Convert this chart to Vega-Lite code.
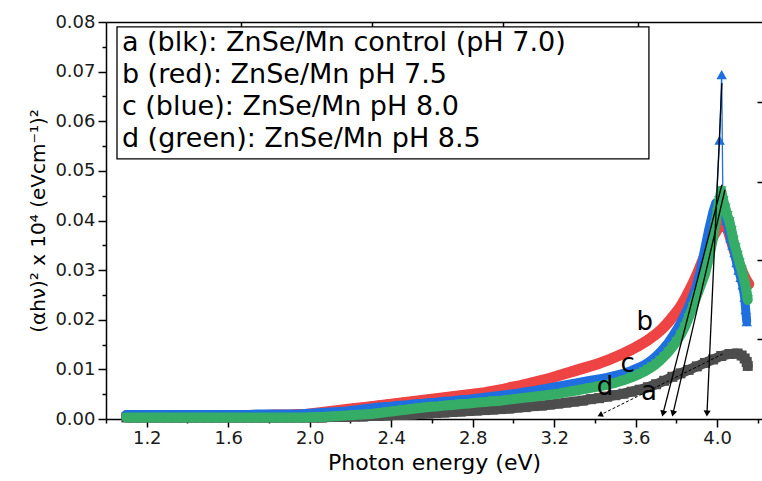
{
 "$schema": "https://vega.github.io/schema/vega-lite/v6.json",
 "width": 656, "height": 397,
 "autosize": "none",
 "padding": {"left": 106, "top": 22, "right": 0, "bottom": 62},
 "background": "white",
 "config": {
  "view": {"stroke": null},
  "axis": {"grid": false, "labelFont": "DejaVu Sans", "titleFont": "DejaVu Sans", "domainColor": "black", "tickColor": "black", "labelColor": "#1a1a1a", "titleColor": "black", "titleFontWeight": "normal", "domainWidth": 1.5, "tickWidth": 1.5},
  "line": {"strokeCap": "round", "strokeJoin": "round"}
 },
 "datasets": {
  "pts": [
   {"s":"a","E":1.10,"v":0.0003},{"s":"a","E":1.14,"v":0.0003},{"s":"a","E":1.18,"v":0.0003},{"s":"a","E":1.22,"v":0.0003},{"s":"a","E":1.26,"v":0.0003},{"s":"a","E":1.30,"v":0.0003},{"s":"a","E":1.34,"v":0.0003},{"s":"a","E":1.38,"v":0.0003},{"s":"a","E":1.42,"v":0.0003},{"s":"a","E":1.46,"v":0.0003},{"s":"a","E":1.50,"v":0.0003},{"s":"a","E":1.54,"v":0.0003},{"s":"a","E":1.58,"v":0.0003},{"s":"a","E":1.62,"v":0.0003},{"s":"a","E":1.66,"v":0.0003},{"s":"a","E":1.70,"v":0.0003},{"s":"a","E":1.74,"v":0.0003},{"s":"a","E":1.78,"v":0.0003},{"s":"a","E":1.82,"v":0.0003},{"s":"a","E":1.86,"v":0.0003},{"s":"a","E":1.90,"v":0.0003},{"s":"a","E":1.94,"v":0.0003},{"s":"a","E":1.98,"v":0.0003},{"s":"a","E":2.02,"v":0.0003},{"s":"a","E":2.06,"v":0.0003},{"s":"a","E":2.10,"v":0.0004},{"s":"a","E":2.14,"v":0.0004},{"s":"a","E":2.18,"v":0.0004},{"s":"a","E":2.22,"v":0.0005},{"s":"a","E":2.26,"v":0.0005},{"s":"a","E":2.30,"v":0.0006},{"s":"a","E":2.34,"v":0.0006},{"s":"a","E":2.38,"v":0.0007},{"s":"a","E":2.42,"v":0.0008},{"s":"a","E":2.46,"v":0.0008},{"s":"a","E":2.50,"v":0.0009},{"s":"a","E":2.54,"v":0.0010},{"s":"a","E":2.58,"v":0.0011},{"s":"a","E":2.62,"v":0.0012},{"s":"a","E":2.66,"v":0.0013},{"s":"a","E":2.70,"v":0.0014},{"s":"a","E":2.74,"v":0.0015},{"s":"a","E":2.78,"v":0.0016},{"s":"a","E":2.82,"v":0.0017},{"s":"a","E":2.86,"v":0.0018},{"s":"a","E":2.90,"v":0.0019},{"s":"a","E":2.94,"v":0.0020},{"s":"a","E":2.98,"v":0.0021},{"s":"a","E":3.02,"v":0.0023},{"s":"a","E":3.06,"v":0.0024},{"s":"a","E":3.10,"v":0.0026},{"s":"a","E":3.14,"v":0.0027},{"s":"a","E":3.18,"v":0.0029},{"s":"a","E":3.22,"v":0.0031},{"s":"a","E":3.26,"v":0.0033},{"s":"a","E":3.30,"v":0.0035},{"s":"a","E":3.34,"v":0.0037},{"s":"a","E":3.38,"v":0.0040},{"s":"a","E":3.42,"v":0.0042},{"s":"a","E":3.46,"v":0.0045},{"s":"a","E":3.50,"v":0.0048},{"s":"a","E":3.54,"v":0.0051},{"s":"a","E":3.58,"v":0.0055},{"s":"a","E":3.62,"v":0.0059},{"s":"a","E":3.66,"v":0.0064},{"s":"a","E":3.70,"v":0.0070},{"s":"a","E":3.74,"v":0.0077},{"s":"a","E":3.78,"v":0.0085},{"s":"a","E":3.82,"v":0.0092},{"s":"a","E":3.86,"v":0.0099},{"s":"a","E":3.90,"v":0.0106},{"s":"a","E":3.94,"v":0.0113},{"s":"a","E":3.98,"v":0.0120},{"s":"a","E":4.02,"v":0.0127},{"s":"a","E":4.06,"v":0.0131},{"s":"a","E":4.10,"v":0.0132},{"s":"a","E":4.12,"v":0.0128},{"s":"a","E":4.135,"v":0.0122},{"s":"a","E":4.145,"v":0.0115},{"s":"a","E":4.15,"v":0.0107},

   {"s":"b","E":1.10,"v":0.0007},{"s":"b","E":1.14,"v":0.0007},{"s":"b","E":1.18,"v":0.0007},{"s":"b","E":1.22,"v":0.0007},{"s":"b","E":1.26,"v":0.0007},{"s":"b","E":1.30,"v":0.0007},{"s":"b","E":1.34,"v":0.0007},{"s":"b","E":1.38,"v":0.0007},{"s":"b","E":1.42,"v":0.0007},{"s":"b","E":1.46,"v":0.0007},{"s":"b","E":1.50,"v":0.0007},{"s":"b","E":1.54,"v":0.0007},{"s":"b","E":1.58,"v":0.0007},{"s":"b","E":1.62,"v":0.0007},{"s":"b","E":1.66,"v":0.0007},{"s":"b","E":1.70,"v":0.0007},{"s":"b","E":1.74,"v":0.0007},{"s":"b","E":1.78,"v":0.0007},{"s":"b","E":1.82,"v":0.0008},{"s":"b","E":1.86,"v":0.0008},{"s":"b","E":1.90,"v":0.0008},{"s":"b","E":1.94,"v":0.0009},{"s":"b","E":1.98,"v":0.0009},{"s":"b","E":2.02,"v":0.0011},{"s":"b","E":2.06,"v":0.0013},{"s":"b","E":2.10,"v":0.0015},{"s":"b","E":2.14,"v":0.0017},{"s":"b","E":2.18,"v":0.0019},{"s":"b","E":2.22,"v":0.0021},{"s":"b","E":2.26,"v":0.0023},{"s":"b","E":2.30,"v":0.0025},{"s":"b","E":2.34,"v":0.0027},{"s":"b","E":2.38,"v":0.0029},{"s":"b","E":2.42,"v":0.0031},{"s":"b","E":2.46,"v":0.0033},{"s":"b","E":2.50,"v":0.0035},{"s":"b","E":2.54,"v":0.0037},{"s":"b","E":2.58,"v":0.0039},{"s":"b","E":2.62,"v":0.0041},{"s":"b","E":2.66,"v":0.0043},{"s":"b","E":2.70,"v":0.0045},{"s":"b","E":2.74,"v":0.0047},{"s":"b","E":2.78,"v":0.0049},{"s":"b","E":2.82,"v":0.0051},{"s":"b","E":2.86,"v":0.0053},{"s":"b","E":2.90,"v":0.0056},{"s":"b","E":2.94,"v":0.0059},{"s":"b","E":2.98,"v":0.0063},{"s":"b","E":3.02,"v":0.0066},{"s":"b","E":3.06,"v":0.0070},{"s":"b","E":3.10,"v":0.0074},{"s":"b","E":3.14,"v":0.0078},{"s":"b","E":3.18,"v":0.0082},{"s":"b","E":3.22,"v":0.0087},{"s":"b","E":3.26,"v":0.0092},{"s":"b","E":3.30,"v":0.0097},{"s":"b","E":3.34,"v":0.0102},{"s":"b","E":3.38,"v":0.0107},{"s":"b","E":3.42,"v":0.0112},{"s":"b","E":3.46,"v":0.0118},{"s":"b","E":3.50,"v":0.0125},{"s":"b","E":3.54,"v":0.0132},{"s":"b","E":3.58,"v":0.0140},{"s":"b","E":3.62,"v":0.0149},{"s":"b","E":3.64,"v":0.0154},{"s":"b","E":3.66,"v":0.0159},{"s":"b","E":3.68,"v":0.0165},{"s":"b","E":3.70,"v":0.0171},{"s":"b","E":3.72,"v":0.0178},{"s":"b","E":3.74,"v":0.0186},{"s":"b","E":3.76,"v":0.0195},{"s":"b","E":3.78,"v":0.0205},{"s":"b","E":3.80,"v":0.0215},{"s":"b","E":3.82,"v":0.0226},{"s":"b","E":3.84,"v":0.0240},{"s":"b","E":3.86,"v":0.0256},{"s":"b","E":3.88,"v":0.0272},{"s":"b","E":3.90,"v":0.0290},{"s":"b","E":3.92,"v":0.0310},{"s":"b","E":3.94,"v":0.0330},{"s":"b","E":3.96,"v":0.0350},{"s":"b","E":3.98,"v":0.0368},{"s":"b","E":4.00,"v":0.0382},{"s":"b","E":4.02,"v":0.0395},{"s":"b","E":4.035,"v":0.0400},{"s":"b","E":4.05,"v":0.0385},{"s":"b","E":4.065,"v":0.0365},{"s":"b","E":4.08,"v":0.0345},{"s":"b","E":4.095,"v":0.0325},{"s":"b","E":4.11,"v":0.0310},{"s":"b","E":4.125,"v":0.0295},{"s":"b","E":4.14,"v":0.0282},{"s":"b","E":4.155,"v":0.0272},

   {"s":"c","E":1.10,"v":0.0008},{"s":"c","E":1.14,"v":0.0008},{"s":"c","E":1.18,"v":0.0008},{"s":"c","E":1.22,"v":0.0008},{"s":"c","E":1.26,"v":0.0008},{"s":"c","E":1.30,"v":0.0008},{"s":"c","E":1.34,"v":0.0008},{"s":"c","E":1.38,"v":0.0008},{"s":"c","E":1.42,"v":0.0008},{"s":"c","E":1.46,"v":0.0008},{"s":"c","E":1.50,"v":0.0008},{"s":"c","E":1.54,"v":0.0008},{"s":"c","E":1.58,"v":0.0008},{"s":"c","E":1.62,"v":0.0008},{"s":"c","E":1.66,"v":0.0008},{"s":"c","E":1.70,"v":0.0008},{"s":"c","E":1.74,"v":0.0009},{"s":"c","E":1.78,"v":0.0009},{"s":"c","E":1.82,"v":0.0009},{"s":"c","E":1.86,"v":0.0009},{"s":"c","E":1.90,"v":0.0009},{"s":"c","E":1.94,"v":0.0009},{"s":"c","E":1.98,"v":0.0010},{"s":"c","E":2.02,"v":0.0011},{"s":"c","E":2.06,"v":0.0012},{"s":"c","E":2.10,"v":0.0013},{"s":"c","E":2.14,"v":0.0014},{"s":"c","E":2.18,"v":0.0015},{"s":"c","E":2.22,"v":0.0017},{"s":"c","E":2.26,"v":0.0019},{"s":"c","E":2.30,"v":0.0021},{"s":"c","E":2.34,"v":0.0023},{"s":"c","E":2.38,"v":0.0024},{"s":"c","E":2.42,"v":0.0026},{"s":"c","E":2.46,"v":0.0027},{"s":"c","E":2.50,"v":0.0029},{"s":"c","E":2.54,"v":0.0030},{"s":"c","E":2.58,"v":0.0032},{"s":"c","E":2.62,"v":0.0033},{"s":"c","E":2.66,"v":0.0035},{"s":"c","E":2.70,"v":0.0036},{"s":"c","E":2.74,"v":0.0038},{"s":"c","E":2.78,"v":0.0039},{"s":"c","E":2.82,"v":0.0041},{"s":"c","E":2.86,"v":0.0043},{"s":"c","E":2.90,"v":0.0045},{"s":"c","E":2.94,"v":0.0047},{"s":"c","E":2.98,"v":0.0049},{"s":"c","E":3.02,"v":0.0051},{"s":"c","E":3.06,"v":0.0054},{"s":"c","E":3.10,"v":0.0056},{"s":"c","E":3.14,"v":0.0059},{"s":"c","E":3.18,"v":0.0062},{"s":"c","E":3.22,"v":0.0065},{"s":"c","E":3.26,"v":0.0068},{"s":"c","E":3.30,"v":0.0071},{"s":"c","E":3.34,"v":0.0074},{"s":"c","E":3.38,"v":0.0077},{"s":"c","E":3.42,"v":0.0080},{"s":"c","E":3.46,"v":0.0083},{"s":"c","E":3.50,"v":0.0087},{"s":"c","E":3.54,"v":0.0091},{"s":"c","E":3.58,"v":0.0097},{"s":"c","E":3.62,"v":0.0104},{"s":"c","E":3.64,"v":0.0108},{"s":"c","E":3.66,"v":0.0113},{"s":"c","E":3.68,"v":0.0119},{"s":"c","E":3.70,"v":0.0126},{"s":"c","E":3.72,"v":0.0134},{"s":"c","E":3.74,"v":0.0143},{"s":"c","E":3.76,"v":0.0153},{"s":"c","E":3.78,"v":0.0165},{"s":"c","E":3.80,"v":0.0178},{"s":"c","E":3.82,"v":0.0192},{"s":"c","E":3.84,"v":0.0208},{"s":"c","E":3.86,"v":0.0224},{"s":"c","E":3.88,"v":0.0245},{"s":"c","E":3.90,"v":0.0268},{"s":"c","E":3.92,"v":0.0300},{"s":"c","E":3.94,"v":0.0340},{"s":"c","E":3.96,"v":0.0380},{"s":"c","E":3.98,"v":0.0415},{"s":"c","E":3.995,"v":0.0435},{"s":"c","E":4.012,"v":0.0562},{"s":"c","E":4.022,"v":0.0694},{"s":"c","E":4.028,"v":0.0445},{"s":"c","E":4.035,"v":0.0420},{"s":"c","E":4.045,"v":0.0400},{"s":"c","E":4.055,"v":0.0385},{"s":"c","E":4.065,"v":0.0365},{"s":"c","E":4.075,"v":0.0350},{"s":"c","E":4.085,"v":0.0335},{"s":"c","E":4.095,"v":0.0315},{"s":"c","E":4.105,"v":0.0300},{"s":"c","E":4.115,"v":0.0285},{"s":"c","E":4.125,"v":0.0270},{"s":"c","E":4.135,"v":0.0245},{"s":"c","E":4.14,"v":0.0220},{"s":"c","E":4.145,"v":0.0196},

   {"s":"d","E":1.10,"v":0.0003},{"s":"d","E":1.14,"v":0.0003},{"s":"d","E":1.18,"v":0.0003},{"s":"d","E":1.22,"v":0.0003},{"s":"d","E":1.26,"v":0.0003},{"s":"d","E":1.30,"v":0.0003},{"s":"d","E":1.34,"v":0.0003},{"s":"d","E":1.38,"v":0.0003},{"s":"d","E":1.42,"v":0.0003},{"s":"d","E":1.46,"v":0.0003},{"s":"d","E":1.50,"v":0.0003},{"s":"d","E":1.54,"v":0.0003},{"s":"d","E":1.58,"v":0.0003},{"s":"d","E":1.62,"v":0.0003},{"s":"d","E":1.66,"v":0.0003},{"s":"d","E":1.70,"v":0.0003},{"s":"d","E":1.74,"v":0.0003},{"s":"d","E":1.78,"v":0.0003},{"s":"d","E":1.82,"v":0.0003},{"s":"d","E":1.86,"v":0.0003},{"s":"d","E":1.90,"v":0.0003},{"s":"d","E":1.94,"v":0.0003},{"s":"d","E":1.98,"v":0.0003},{"s":"d","E":2.02,"v":0.0004},{"s":"d","E":2.06,"v":0.0004},{"s":"d","E":2.10,"v":0.0005},{"s":"d","E":2.14,"v":0.0006},{"s":"d","E":2.18,"v":0.0007},{"s":"d","E":2.22,"v":0.0008},{"s":"d","E":2.26,"v":0.0009},{"s":"d","E":2.30,"v":0.0010},{"s":"d","E":2.34,"v":0.0012},{"s":"d","E":2.38,"v":0.0014},{"s":"d","E":2.42,"v":0.0016},{"s":"d","E":2.46,"v":0.0018},{"s":"d","E":2.50,"v":0.0020},{"s":"d","E":2.54,"v":0.0022},{"s":"d","E":2.58,"v":0.0024},{"s":"d","E":2.62,"v":0.0025},{"s":"d","E":2.66,"v":0.0027},{"s":"d","E":2.70,"v":0.0028},{"s":"d","E":2.74,"v":0.0030},{"s":"d","E":2.78,"v":0.0031},{"s":"d","E":2.82,"v":0.0033},{"s":"d","E":2.86,"v":0.0034},{"s":"d","E":2.90,"v":0.0036},{"s":"d","E":2.94,"v":0.0037},{"s":"d","E":2.98,"v":0.0039},{"s":"d","E":3.02,"v":0.0041},{"s":"d","E":3.06,"v":0.0043},{"s":"d","E":3.10,"v":0.0045},{"s":"d","E":3.14,"v":0.0047},{"s":"d","E":3.18,"v":0.0049},{"s":"d","E":3.22,"v":0.0051},{"s":"d","E":3.26,"v":0.0054},{"s":"d","E":3.30,"v":0.0057},{"s":"d","E":3.34,"v":0.0060},{"s":"d","E":3.38,"v":0.0063},{"s":"d","E":3.42,"v":0.0066},{"s":"d","E":3.46,"v":0.0069},{"s":"d","E":3.50,"v":0.0073},{"s":"d","E":3.54,"v":0.0078},{"s":"d","E":3.58,"v":0.0084},{"s":"d","E":3.62,"v":0.0091},{"s":"d","E":3.64,"v":0.0095},{"s":"d","E":3.66,"v":0.0100},{"s":"d","E":3.68,"v":0.0105},{"s":"d","E":3.70,"v":0.0111},{"s":"d","E":3.72,"v":0.0118},{"s":"d","E":3.74,"v":0.0126},{"s":"d","E":3.76,"v":0.0135},{"s":"d","E":3.78,"v":0.0145},{"s":"d","E":3.80,"v":0.0156},{"s":"d","E":3.82,"v":0.0169},{"s":"d","E":3.84,"v":0.0185},{"s":"d","E":3.86,"v":0.0204},{"s":"d","E":3.88,"v":0.0225},{"s":"d","E":3.90,"v":0.0248},{"s":"d","E":3.92,"v":0.0270},{"s":"d","E":3.94,"v":0.0292},{"s":"d","E":3.96,"v":0.0325},{"s":"d","E":3.98,"v":0.0365},{"s":"d","E":3.99,"v":0.0390},{"s":"d","E":4.00,"v":0.0415},{"s":"d","E":4.01,"v":0.0440},{"s":"d","E":4.02,"v":0.0460},{"s":"d","E":4.03,"v":0.0440},{"s":"d","E":4.04,"v":0.0425},{"s":"d","E":4.05,"v":0.0410},{"s":"d","E":4.06,"v":0.0398},{"s":"d","E":4.07,"v":0.0380},{"s":"d","E":4.08,"v":0.0360},{"s":"d","E":4.09,"v":0.0345},{"s":"d","E":4.10,"v":0.0330},{"s":"d","E":4.11,"v":0.0315},{"s":"d","E":4.12,"v":0.0300},{"s":"d","E":4.13,"v":0.0285},{"s":"d","E":4.14,"v":0.0268},{"s":"d","E":4.145,"v":0.0255},{"s":"d","E":4.15,"v":0.0240}
  ],
  "arrows": [
   {"k": 1, "E": 4.023, "v": 0.0677, "E2": 3.950, "v2": 0.0011},
   {"k": 2, "E": 4.023, "v": 0.0472, "E2": 3.734, "v2": 0.0011},
   {"k": 3, "E": 4.038, "v": 0.0462, "E2": 3.783, "v2": 0.0011},
   {"k": 4, "E": 4.027, "v": 0.0131, "E2": 3.425, "v2": 0.0008}
  ],
  "box": [{"E": 1.054, "E2": 3.665, "v": 0.0524, "v2": 0.0790}],
  "legend": [
   {"t": "a (blk): ZnSe/Mn control (pH 7.0)", "E": 1.078, "v": 0.0757},
   {"t": "b (red): ZnSe/Mn pH 7.5", "E": 1.078, "v": 0.0693},
   {"t": "c (blue): ZnSe/Mn pH 8.0", "E": 1.078, "v": 0.0628},
   {"t": "d (green): ZnSe/Mn pH 8.5", "E": 1.078, "v": 0.0564}
  ],
  "labels": [
   {"t": "a", "E": 3.665, "v": 0.0054},
   {"t": "b", "E": 3.645, "v": 0.0196},
   {"t": "c", "E": 3.56, "v": 0.0110},
   {"t": "d", "E": 3.449, "v": 0.0065}
  ]
 },
 "resolve": {"axis": {"x": "independent", "y": "independent"}},
 "layer": [
  {
   "data": {"name": "pts"},
   "transform": [{"filter": "datum.s == 'a'"}],
   "mark": {"type": "line", "color": "#4d4d4d", "strokeWidth": 10},
   "encoding": {
    "x": {"field": "E", "type": "quantitative", "scale": {"domain": [1, 4.22], "nice": false, "zero": false},
      "axis": {"orient": "bottom", "values": [1.2, 1.6, 2.0, 2.4, 2.8, 3.2, 3.6, 4.0], "format": ".1f", "tickSize": 8, "labelFontSize": 18, "labelPadding": 2, "title": "Photon energy (eV)", "titleFontSize": 22, "titlePadding": 5}},
    "y": {"field": "v", "type": "quantitative", "scale": {"domain": [0, 0.08], "nice": false, "zero": false},
      "axis": {"orient": "left", "values": [0, 0.01, 0.02, 0.03, 0.04, 0.05, 0.06, 0.07, 0.08], "format": ".2f", "tickSize": 8, "labelFontSize": 18, "labelPadding": 3, "title": "(αhν)² x 10⁴ (eVcm⁻¹)²", "titleFontSize": 20, "titlePadding": 6}}
   }
  },
  {
   "data": {"name": "pts"},
   "transform": [{"filter": "datum.s == 'a'"}],
   "mark": {"type": "point", "shape": "square", "filled": true, "opacity": 1, "size": 100, "strokeWidth": 0, "color": "#4d4d4d"},
   "encoding": {
    "x": {"field": "E", "type": "quantitative", "scale": {"domain": [1, 4.22], "nice": false, "zero": false}, "axis": null},
    "y": {"field": "v", "type": "quantitative", "scale": {"domain": [0, 0.08], "nice": false, "zero": false}, "axis": null}
   }
  },
  {
   "data": {"name": "pts"},
   "transform": [{"filter": "datum.s == 'b'"}],
   "mark": {"type": "line", "color": "#ef4444", "strokeWidth": 11},
   "encoding": {
    "x": {"field": "E", "type": "quantitative", "scale": {"domain": [1, 4.22], "nice": false, "zero": false}, "axis": null},
    "y": {"field": "v", "type": "quantitative", "scale": {"domain": [0, 0.08], "nice": false, "zero": false}, "axis": null}
   }
  },
  {
   "data": {"name": "pts"},
   "transform": [{"filter": "datum.s == 'b'"}],
   "mark": {"type": "point", "shape": "circle", "filled": true, "opacity": 1, "size": 100, "strokeWidth": 0, "color": "#ef4444"},
   "encoding": {
    "x": {"field": "E", "type": "quantitative", "scale": {"domain": [1, 4.22], "nice": false, "zero": false}, "axis": null},
    "y": {"field": "v", "type": "quantitative", "scale": {"domain": [0, 0.08], "nice": false, "zero": false}, "axis": null}
   }
  },
  {
   "data": {"name": "pts"},
   "transform": [{"filter": "datum.s == 'c' && datum.E <= 3.996"}],
   "mark": {"type": "line", "color": "#1f6fe0", "strokeWidth": 10},
   "encoding": {
    "x": {"field": "E", "type": "quantitative", "scale": {"domain": [1, 4.22], "nice": false, "zero": false}, "axis": null},
    "y": {"field": "v", "type": "quantitative", "scale": {"domain": [0, 0.08], "nice": false, "zero": false}, "axis": null}
   }
  },
  {
   "data": {"name": "pts"},
   "transform": [{"filter": "datum.s == 'c' && datum.E >= 4.027"}],
   "mark": {"type": "line", "color": "#1f6fe0", "strokeWidth": 9},
   "encoding": {
    "x": {"field": "E", "type": "quantitative", "scale": {"domain": [1, 4.22], "nice": false, "zero": false}, "axis": null},
    "y": {"field": "v", "type": "quantitative", "scale": {"domain": [0, 0.08], "nice": false, "zero": false}, "axis": null}
   }
  },
  {
   "data": {"name": "pts"},
   "transform": [{"filter": "datum.s == 'c' && datum.E >= 3.99 && datum.E <= 4.03"}],
   "mark": {"type": "line", "color": "#1f6fe0", "strokeWidth": 1.3},
   "encoding": {
    "x": {"field": "E", "type": "quantitative", "scale": {"domain": [1, 4.22], "nice": false, "zero": false}, "axis": null},
    "y": {"field": "v", "type": "quantitative", "scale": {"domain": [0, 0.08], "nice": false, "zero": false}, "axis": null}
   }
  },
  {
   "data": {"name": "pts"},
   "transform": [{"filter": "datum.s == 'c'"}],
   "mark": {"type": "point", "shape": "triangle-up", "filled": true, "opacity": 1, "size": 110, "strokeWidth": 0, "color": "#1f6fe0"},
   "encoding": {
    "x": {"field": "E", "type": "quantitative", "scale": {"domain": [1, 4.22], "nice": false, "zero": false}, "axis": null},
    "y": {"field": "v", "type": "quantitative", "scale": {"domain": [0, 0.08], "nice": false, "zero": false}, "axis": null}
   }
  },
  {
   "data": {"name": "pts"},
   "transform": [{"filter": "datum.s == 'd'"}],
   "mark": {"type": "line", "color": "#36ad66", "strokeWidth": 10},
   "encoding": {
    "x": {"field": "E", "type": "quantitative", "scale": {"domain": [1, 4.22], "nice": false, "zero": false}, "axis": null},
    "y": {"field": "v", "type": "quantitative", "scale": {"domain": [0, 0.08], "nice": false, "zero": false}, "axis": null}
   }
  },
  {
   "data": {"name": "pts"},
   "transform": [{"filter": "datum.s == 'd'"}],
   "mark": {"type": "point", "shape": "triangle-down", "filled": true, "opacity": 1, "size": 110, "strokeWidth": 0, "color": "#36ad66"},
   "encoding": {
    "x": {"field": "E", "type": "quantitative", "scale": {"domain": [1, 4.22], "nice": false, "zero": false}, "axis": null},
    "y": {"field": "v", "type": "quantitative", "scale": {"domain": [0, 0.08], "nice": false, "zero": false}, "axis": null}
   }
  },
  {
   "data": {"name": "arrows"},
   "transform": [{"filter": "datum.k < 4"}],
   "mark": {"type": "rule", "color": "black", "strokeWidth": 1.3},
   "encoding": {
    "x": {"field": "E", "type": "quantitative", "scale": {"domain": [1, 4.22], "nice": false, "zero": false},
      "axis": {"orient": "bottom", "values": [1.0, 1.4, 1.8, 2.2, 2.6, 3.0, 3.4, 3.8, 4.2], "labels": false, "domain": false, "tickSize": 4, "title": null}},
    "x2": {"field": "E2"},
    "y": {"field": "v", "type": "quantitative", "scale": {"domain": [0, 0.08], "nice": false, "zero": false},
      "axis": {"orient": "left", "values": [0.005, 0.015, 0.025, 0.035, 0.045, 0.055, 0.065, 0.075], "labels": false, "domain": false, "tickSize": 4, "title": null}},
    "y2": {"field": "v2"}
   }
  },
  {
   "data": {"name": "arrows"},
   "transform": [{"filter": "datum.k == 4"}],
   "mark": {"type": "rule", "color": "black", "strokeWidth": 1, "strokeDash": [3, 2]},
   "encoding": {
    "x": {"field": "E", "type": "quantitative", "scale": {"domain": [1, 4.22], "nice": false, "zero": false}, "axis": null},
    "x2": {"field": "E2"},
    "y": {"field": "v", "type": "quantitative", "scale": {"domain": [0, 0.08], "nice": false, "zero": false}, "axis": null},
    "y2": {"field": "v2"}
   }
  },
  {
   "data": {"name": "arrows"},
   "transform": [{"filter": "datum.k == 1"}],
   "mark": {"type": "point", "shape": "triangle-down", "filled": true, "color": "black", "opacity": 1, "size": 50, "angle": 3},
   "encoding": {
    "x": {"field": "E2", "type": "quantitative", "scale": {"domain": [1, 4.22], "nice": false, "zero": false},
      "axis": {"orient": "top", "values": [1.663, 2.306, 2.949, 3.611], "labels": false, "domain": true, "tickSize": -5, "title": null}},
    "y": {"field": "v2", "type": "quantitative", "scale": {"domain": [0, 0.08], "nice": false, "zero": false},
      "axis": {"orient": "right", "values": [0.0161, 0.032, 0.0478, 0.0639], "labels": false, "domain": false, "tickSize": -5, "title": null}}
   }
  },
  {
   "data": {"name": "arrows"},
   "transform": [{"filter": "datum.k == 2 || datum.k == 3"}],
   "mark": {"type": "point", "shape": "triangle-down", "filled": true, "color": "black", "opacity": 1, "size": 50, "angle": 14},
   "encoding": {
    "x": {"field": "E2", "type": "quantitative", "scale": {"domain": [1, 4.22], "nice": false, "zero": false}, "axis": null},
    "y": {"field": "v2", "type": "quantitative", "scale": {"domain": [0, 0.08], "nice": false, "zero": false}, "axis": null}
   }
  },
  {
   "data": {"name": "arrows"},
   "transform": [{"filter": "datum.k == 4"}],
   "mark": {"type": "point", "shape": "triangle-down", "filled": true, "color": "black", "opacity": 1, "size": 40, "angle": 64},
   "encoding": {
    "x": {"field": "E2", "type": "quantitative", "scale": {"domain": [1, 4.22], "nice": false, "zero": false}, "axis": null},
    "y": {"field": "v2", "type": "quantitative", "scale": {"domain": [0, 0.08], "nice": false, "zero": false}, "axis": null}
   }
  },
  {
   "data": {"name": "box"},
   "mark": {"type": "rect", "fill": "white", "stroke": "black", "strokeWidth": 1.3},
   "encoding": {
    "x": {"field": "E", "type": "quantitative", "scale": {"domain": [1, 4.22], "nice": false, "zero": false}, "axis": null},
    "x2": {"field": "E2"},
    "y": {"field": "v", "type": "quantitative", "scale": {"domain": [0, 0.08], "nice": false, "zero": false}, "axis": null},
    "y2": {"field": "v2"}
   }
  },
  {
   "data": {"name": "legend"},
   "mark": {"type": "text", "align": "left", "baseline": "middle", "font": "DejaVu Sans", "fontSize": 27, "color": "black"},
   "encoding": {
    "x": {"field": "E", "type": "quantitative", "scale": {"domain": [1, 4.22], "nice": false, "zero": false}, "axis": null},
    "y": {"field": "v", "type": "quantitative", "scale": {"domain": [0, 0.08], "nice": false, "zero": false}, "axis": null},
    "text": {"field": "t"}
   }
  },
  {
   "data": {"name": "labels"},
   "mark": {"type": "text", "align": "center", "baseline": "middle", "font": "DejaVu Sans", "fontSize": 26, "color": "black"},
   "encoding": {
    "x": {"field": "E", "type": "quantitative", "scale": {"domain": [1, 4.22], "nice": false, "zero": false}, "axis": null},
    "y": {"field": "v", "type": "quantitative", "scale": {"domain": [0, 0.08], "nice": false, "zero": false}, "axis": null},
    "text": {"field": "t"}
   }
  }
 ]
}
